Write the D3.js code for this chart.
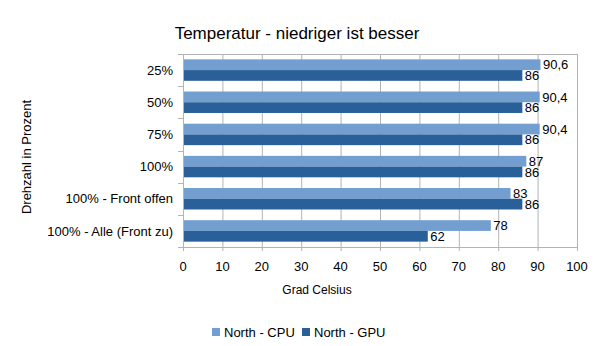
<!DOCTYPE html>
<html>
<head>
<meta charset="utf-8">
<script src="https://cdn.jsdelivr.net/npm/d3@7/dist/d3.min.js"></script>
<style>
  html, body { margin: 0; padding: 0; background: #fff; }
  svg { display: block; font-family: "Liberation Sans", Arial, sans-serif; }
</style>
</head>
<body>
<svg id="chart" width="597" height="346"></svg>
<script>
// Fan-speed scenarios and the measured temperatures (°C)
const categories = ["25%", "50%", "75%", "100%", "100% - Front offen", "100% - Alle (Front zu)"];
const seriesNames = ["North - CPU", "North - GPU"];
const cpuValues = [90.6, 90.4, 90.4, 87, 83, 78];
const gpuValues = [86, 86, 86, 86, 86, 62];
const xTicks = [0, 10, 20, 30, 40, 50, 60, 70, 80, 90, 100];
const colors = ["#729fcf", "#2a6099"];

const title = "Temperatur - niedriger ist besser";
const xTitle = "Grad Celsius";
const yTitle = "Drehzahl in Prozent";

const series = [cpuValues, gpuValues];
const de = d3.formatLocale({ decimal: ",", thousands: ".", grouping: [3], currency: ["", " €"] });
const fmt = v => de.format(",")(v);

const svg = d3.select("#chart");
const plot = { left: 183, right: 577, top: 54, bottom: 247 };

const x = d3.scaleLinear().domain([0, 100]).range([plot.left, plot.right]);
const y = d3.scaleBand().domain(categories).range([plot.top, plot.bottom]).paddingInner(0).paddingOuter(0);
const inner = d3.scaleBand().domain([0, 1]).range([0, y.bandwidth()]).paddingOuter(0.5).paddingInner(0);

const grid = "#b3b3b3";

// vertical grid lines
svg.append("g").selectAll("line").data(xTicks).join("line")
  .attr("x1", d => x(d) + 0.5).attr("x2", d => x(d) + 0.5)
  .attr("y1", plot.top).attr("y2", plot.bottom + 4)
  .attr("stroke", grid).attr("stroke-width", 1);

// frame: top and bottom borders, category ticks on the left axis
svg.append("line").attr("x1", plot.left).attr("x2", plot.right + 1)
  .attr("y1", plot.top + 0.5).attr("y2", plot.top + 0.5).attr("stroke", grid);
svg.append("line").attr("x1", plot.left).attr("x2", plot.right + 1)
  .attr("y1", plot.bottom + 0.5).attr("y2", plot.bottom + 0.5).attr("stroke", grid);
const bounds = categories.map(c => y(c)).concat([plot.bottom]);
svg.append("g").selectAll("line").data(bounds).join("line")
  .attr("x1", plot.left - 5).attr("x2", plot.left)
  .attr("y1", d => Math.round(d) + 0.5).attr("y2", d => Math.round(d) + 0.5)
  .attr("stroke", grid);

// bars with their value labels
series.forEach((vals, si) => {
  svg.append("g").selectAll("rect").data(vals).join("rect")
    .attr("x", x(0) + 1)
    .attr("y", (d, i) => y(categories[i]) + inner(si))
    .attr("width", d => x(d) - x(0) - 0.5)
    .attr("height", inner.bandwidth())
    .attr("fill", colors[si]);
  svg.append("g").selectAll("text").data(vals).join("text")
    .attr("x", d => x(d) + 3)
    .attr("y", (d, i) => y(categories[i]) + inner(si) + inner.bandwidth() / 2)
    .attr("dy", "0.36em")
    .attr("font-size", 13).attr("fill", "#000")
    .text(d => fmt(d));
});

// category labels
svg.append("g").selectAll("text").data(categories).join("text")
  .attr("x", 173)
  .attr("y", d => y(d) + y.bandwidth() / 2)
  .attr("dy", "0.36em")
  .attr("text-anchor", "end").attr("font-size", 13).attr("fill", "#000")
  .text(d => d);

// x tick labels
svg.append("g").selectAll("text").data(xTicks).join("text")
  .attr("x", d => x(d))
  .attr("y", 271)
  .attr("text-anchor", "middle").attr("font-size", 13).attr("fill", "#000")
  .text(d => d);

// titles
svg.append("text").attr("x", 297).attr("y", 39)
  .attr("text-anchor", "middle").attr("font-size", 17).attr("fill", "#000").text(title);
svg.append("text").attr("x", 317).attr("y", 294)
  .attr("text-anchor", "middle").attr("font-size", 12).attr("fill", "#000").text(xTitle);
svg.append("text").attr("transform", "translate(31,157) rotate(-90)")
  .attr("text-anchor", "middle").attr("font-size", 13).attr("fill", "#000").text(yTitle);

// legend
const legendX = [212, 302];
const lg = svg.append("g").selectAll("g").data(seriesNames).join("g")
  .attr("transform", (d, i) => `translate(${legendX[i]},328)`);
lg.append("rect").attr("width", 8).attr("height", 8).attr("fill", (d, i) => colors[i]);
lg.append("text").attr("x", 12).attr("y", 4).attr("dy", "0.36em")
  .attr("font-size", 13).attr("fill", "#000").text(d => d);
</script>
</body>
</html>
